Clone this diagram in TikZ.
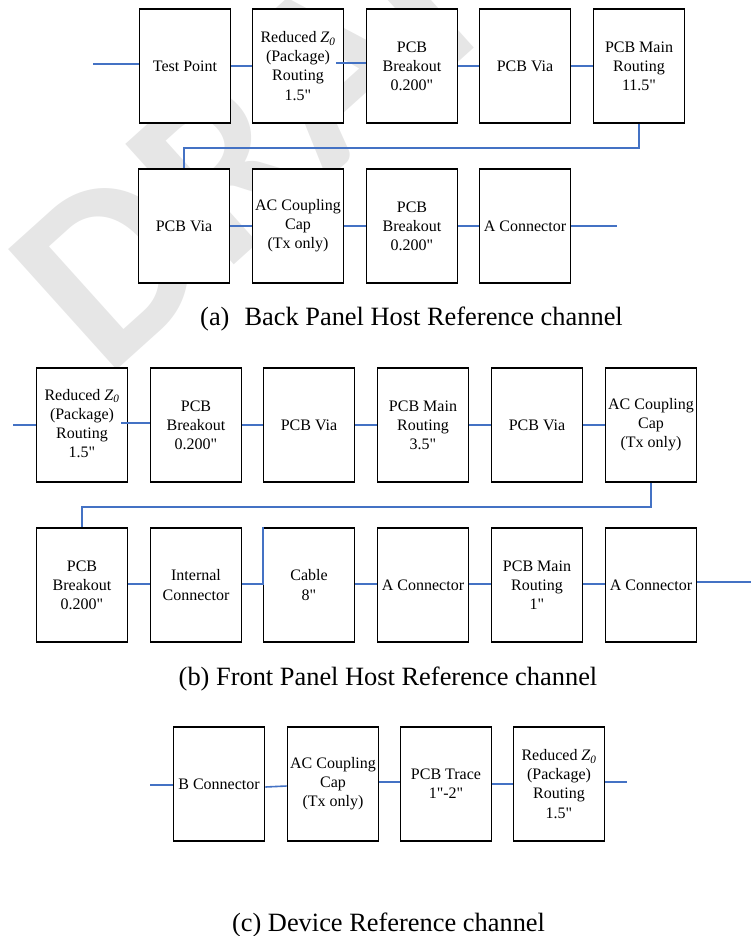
\documentclass[tikz,border=0pt]{standalone}
\usepackage{fontspec}
\setmainfont{Liberation Serif}
\newfontfamily\wmfont{Carlito}
\usetikzlibrary{calc}
\definecolor{wirecol}{RGB}{68,114,196}
\definecolor{wmcol}{RGB}{230,230,230}
\newcommand\inch{\XeTeXglyph\XeTeXcharglyph 34\relax}
\begin{document}
\begin{tikzpicture}[x=1pt,y=-1pt,
  blk/.style={draw=black, line width=1.6pt, fill=white, minimum width=91pt,
    minimum height=114pt, inner sep=0pt, align=center,
    font=\fontsize{16}{19.1}\selectfont},
  wire/.style={draw=wirecol, line width=1.6pt},
  capt/.style={anchor=base, inner sep=0pt, font=\fontsize{26.4}{30}\selectfont}]
\useasboundingbox (0,0) rectangle (751,936);
% watermark
\node[rotate=42, anchor=base west, text=wmcol, inner sep=0pt,
  font=\wmfont\bfseries\fontsize{250}{250}\selectfont] (wmark) at (106,380) {DRAFT};

% (a) row 1
\node[blk] (a11) at (185,66) {Test Point};
\node[blk] (a12) at (298,66) {Reduced \textit{Z\textsubscript{0}}\\(Package)\\Routing\\1.5\inch};
\node[blk] (a13) at (412,66) {PCB\\Breakout\\0.200\inch};
\node[blk] (a14) at (525,66) {PCB Via};
\node[blk] (a15) at (639,66) {PCB Main\\Routing\\11.5\inch};
% (a) row 2
\node[blk] (a21) at (184,226) {PCB Via};
\node[blk] (a22) at (298,226) {AC Coupling\\Cap\\(Tx only)};
\node[blk] (a23) at (412,226) {PCB\\Breakout\\0.200\inch};
\node[blk] (a24) at (525,226) {A Connector};
\node[capt] (capa) at (411.5,325) {(a)\hspace{15pt}Back Panel Host Reference channel};

% (b) row 1
\node[blk] (b11) at (82,425) {\raisebox{10pt}{\begin{tabular}{@{}c@{}}Reduced \textit{Z\textsubscript{0}}\\(Package)\\Routing\\1.5\inch\end{tabular}}};
\node[blk] (b12) at (196,425) {PCB\\Breakout\\0.200\inch};
\node[blk] (b13) at (309,425) {PCB Via};
\node[blk] (b14) at (423,425) {PCB Main\\Routing\\3.5\inch};
\node[blk] (b15) at (537,425) {PCB Via};
\node[blk] (b16) at (651,425) {AC Coupling\\Cap\\(Tx only)};
% (b) row 2
\node[blk] (b21) at (82,585) {PCB\\Breakout\\0.200\inch};
\node[blk] (b22) at (196,585) {Internal\\Connector};
\node[blk] (b23) at (309,585) {Cable\\8\inch};
\node[blk] (b24) at (423,585) {A Connector};
\node[blk] (b25) at (537,585) {PCB Main\\Routing\\1\inch};
\node[blk] (b26) at (651,585) {A Connector};
\node[capt] (capb) at (388,685) {(b) Front Panel Host Reference channel};

% (c)
\node[blk] (c1) at (219,784) {B Connector};
\node[blk] (c2) at (333,784) {AC Coupling\\Cap\\(Tx only)};
\node[blk] (c3) at (446,784) {PCB Trace\\1\inch-2\inch};
\node[blk] (c4) at (559,784) {Reduced \textit{Z\textsubscript{0}}\\(Package)\\Routing\\1.5\inch};
\node[capt] (capc) at (388.5,931) {(c) Device Reference channel};

% free ends
\coordinate (ain) at (93,64);
\coordinate (aout) at (617,226);
\coordinate (bin) at (13,425);
\coordinate (bout) at (751,582);
\coordinate (cin) at (150,785);
\coordinate (cout) at (627,782);

% wires (a)
\draw[wire] (ain) -- (ain -| a11.west);
\draw[wire] (a11.east) -- (a12.west);
\draw[wire] ($(a12.east)+(-8,-3)$) -- ($(a13.west)+(0,-3)$);
\draw[wire] (a13.east) -- (a14.west);
\draw[wire] (a14.east) -- (a15.west);
\draw[wire] (a15.south) -- ++(0,24) -| (a21.north);
\draw[wire] (a21.east) -- (a22.west);
\draw[wire] (a22.east) -- (a23.west);
\draw[wire] (a23.east) -- (a24.west);
\draw[wire] (a24.east) -- (aout);

% wires (b)
\draw[wire] (bin) -- (b11.west);
\draw[wire] ($(b11.east)+(-7,-2)$) -- ($(b12.west)+(0,-2)$);
\draw[wire] (b12.east) -- (b13.west);
\draw[wire] (b13.east) -- (b14.west);
\draw[wire] (b14.east) -- (b15.west);
\draw[wire] (b15.east) -- (b16.west);
\draw[wire] (b16.south) -- ++(0,24) -| (b21.north);
\draw[wire] ($(b21.east)+(0,-1)$) -- ($(b22.west)+(0,-1)$);
\draw[wire] ($(b22.east)+(0,-1)$) -- ($(b23.west)+(0,-1)$) -- (b23.north west);
\draw[wire] ($(b23.east)+(0,-1)$) -- ($(b24.west)+(0,-1)$);
\draw[wire] ($(b24.east)+(0,-1)$) -- ($(b25.west)+(0,-1)$);
\draw[wire] ($(b25.east)+(0,-1)$) -- ($(b26.west)+(0,-1)$);
\draw[wire] (b26.east |- bout) -- (bout);

% wires (c)
\draw[wire] (cin) -- (cin -| c1.west);
\draw[wire] ($(c1.east)+(0,3)$) -- ($(c2.west)+(0,2)$);
\draw[wire] ($(c2.east)+(0,-2)$) -- ($(c3.west)+(0,-2)$);
\draw[wire] (c3.east) -- (c4.west);
\draw[wire] (c4.east |- cout) -- (cout);
\end{tikzpicture}
\end{document}
